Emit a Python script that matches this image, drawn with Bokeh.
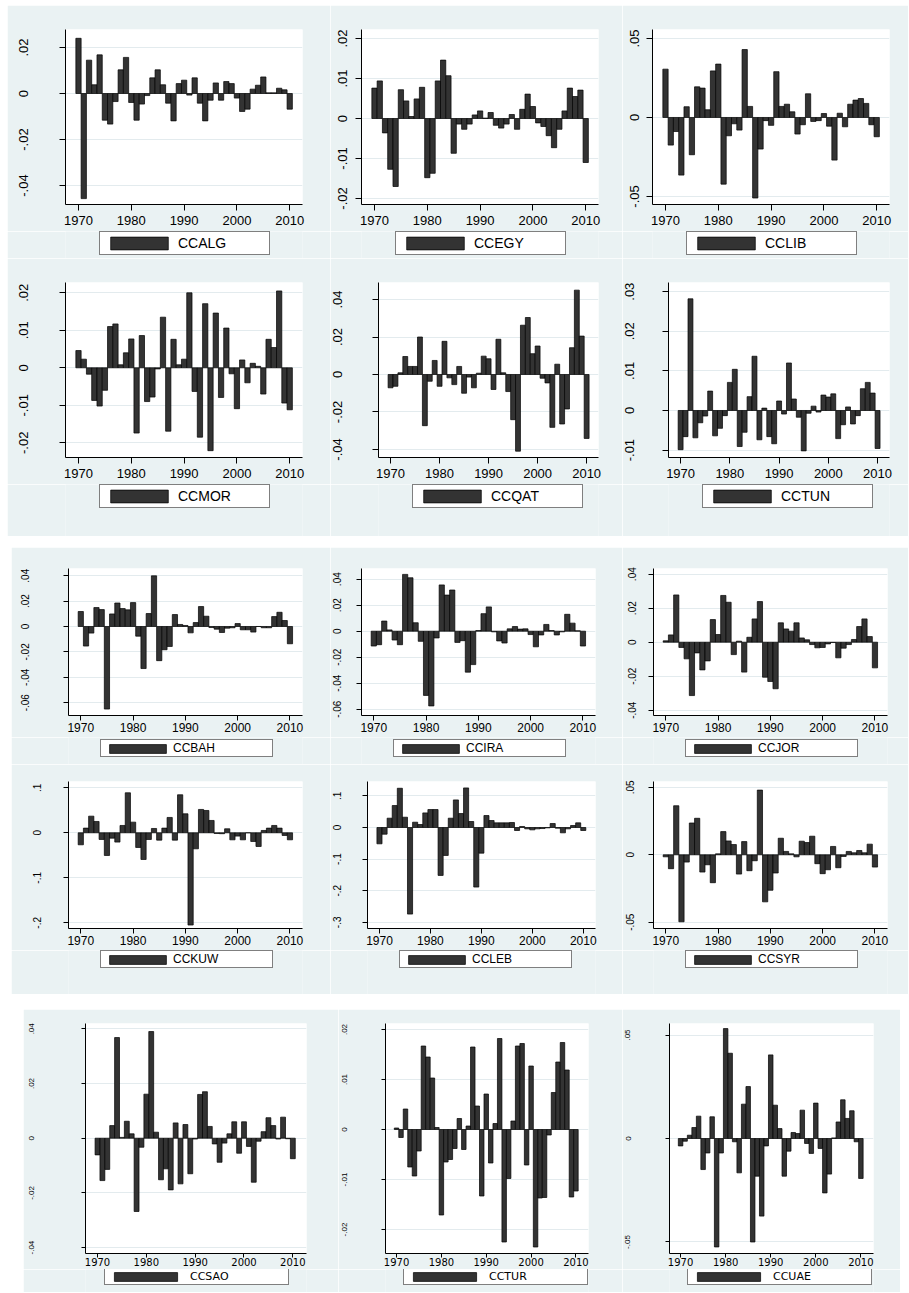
from bokeh.plotting import figure
from bokeh.models import Range1d, FixedTicker, Legend, LegendItem, Spacer
from bokeh.layouts import row, column
from bokeh.embed import file_html
from bokeh.resources import INLINE

years = list(range(1970, 2011))
x_ticks = [1970, 1980, 1990, 2000, 2010]

ccalg = [0.0240, -0.0457, 0.0145, 0.0038, 0.0168, -0.0116, -0.0133, -0.0035, 0.0103, 0.0157,
         -0.0039, -0.0116, -0.0046, -0.0009, 0.0068, 0.0103, 0.0038, -0.0042, -0.0119, 0.0043,
         0.0058, -0.0007, 0.0068, -0.0042, -0.0119, -0.0029, 0.0046, -0.0029, 0.0052, 0.0043,
         -0.0020, -0.0078, -0.0068, 0.0019, 0.0036, 0.0072, 0.0003, 0.0003, 0.0023, 0.0016, -0.0068]
ccegy = [0.0076, 0.0094, -0.0036, -0.0127, -0.0170, 0.0072, 0.0044, 0.0005, 0.0049, 0.0078,
         -0.0148, -0.0137, 0.0094, 0.0146, 0.0107, -0.0087, -0.0014, -0.0027, -0.0014, 0.0009,
         0.0019, 0.0001, 0.0015, -0.0017, -0.0024, -0.0014, 0.0010, -0.0027, 0.0023, 0.0061,
         0.0030, -0.0011, -0.0020, -0.0043, -0.0073, -0.0027, 0.0019, 0.0076, 0.0055, 0.0071, -0.0110]
cclib = [0.0306, -0.0175, -0.0089, -0.0365, 0.0068, -0.0236, 0.0194, 0.0186, 0.0049, 0.0295,
         0.0338, -0.0422, -0.0116, -0.0040, -0.0080, 0.0430, 0.0070, -0.0510, -0.0200, -0.0020,
         -0.0050, 0.0290, 0.0070, 0.0084, 0.0036, -0.0105, -0.0046, 0.0150, -0.0025, -0.0020,
         0.0025, -0.0055, -0.0270, 0.0027, -0.0059, 0.0084, 0.0110, 0.0120, 0.0089, -0.0046, -0.0122]
ccmor = [0.0046, 0.0023, -0.0017, -0.0087, -0.0102, -0.0060, 0.0110, 0.0117, 0.0008, 0.0040,
         0.0077, -0.0174, 0.0086, -0.0090, -0.0078, -0.0003, 0.0135, -0.0169, 0.0076, 0.0008,
         0.0023, 0.0200, -0.0063, -0.0185, 0.0171, -0.0221, 0.0146, -0.0079, 0.0106, -0.0016,
         -0.0109, 0.0021, -0.0040, 0.0012, 0.0004, -0.0070, 0.0076, 0.0054, 0.0205, -0.0094, -0.0112]
ccqat = [-0.0071, -0.0063, 0.0009, 0.0096, 0.0043, 0.0043, 0.0200, -0.0273, -0.0036, 0.0075,
         -0.0063, 0.0177, -0.0018, -0.0054, 0.0043, -0.0100, -0.0014, -0.0071, 0.0007, 0.0098,
         0.0084, -0.0080, 0.0188, 0.0009, -0.0091, -0.0241, -0.0409, 0.0263, 0.0304, 0.0111,
         0.0152, -0.0020, -0.0045, -0.0282, 0.0055, -0.0264, -0.0184, 0.0143, 0.0450, 0.0205, -0.0341]
cctun = [-0.0099, -0.0066, 0.0282, -0.0069, -0.0031, -0.0014, 0.0049, -0.0064, -0.0045, -0.0013,
         0.0071, 0.0104, -0.0091, -0.0055, 0.0035, 0.0137, -0.0074, 0.0006, -0.0066, -0.0084,
         0.0024, -0.0009, 0.0120, 0.0029, -0.0017, -0.0102, -0.0007, 0.0011, -0.0004, 0.0039,
         0.0034, 0.0042, -0.0071, -0.0036, 0.0009, -0.0034, -0.0013, 0.0055, 0.0071, 0.0044, -0.0096]
ccbah = [0.0118, -0.0154, -0.0052, 0.0149, 0.0133, -0.0650, 0.0099, 0.0185, 0.0141, 0.0131,
         0.0188, -0.0076, -0.0331, 0.0102, 0.0399, -0.0269, -0.0183, -0.0157, 0.0094, 0.0016,
         0.0008, -0.0050, 0.0031, 0.0157, 0.0081, -0.0008, -0.0021, -0.0047, -0.0013, -0.0010,
         0.0023, -0.0026, -0.0026, -0.0044, 0.0000, -0.0010, -0.0010, 0.0078, 0.0112, 0.0047, -0.0136]
ccira = [-0.0114, -0.0104, 0.0078, 0.0010, -0.0068, -0.0104, 0.0437, 0.0411, 0.0065, -0.0078,
         -0.0494, -0.0575, -0.0052, 0.0356, 0.0278, 0.0317, -0.0086, -0.0073, -0.0315, -0.0257,
         0.0005, 0.0135, 0.0187, -0.0005, -0.0075, -0.0091, 0.0018, 0.0036, 0.0016, 0.0018,
         -0.0026, -0.0120, -0.0029, 0.0052, 0.0005, -0.0029, -0.0005, 0.0130, 0.0062, 0.0003, -0.0114]
ccjor = [0.0008, 0.0043, 0.0278, -0.0031, -0.0098, -0.0314, -0.0063, -0.0163, -0.0110, 0.0133,
         0.0045, 0.0275, 0.0235, -0.0073, 0.0006, -0.0176, 0.0029, 0.0137, 0.0239, -0.0206,
         -0.0231, -0.0274, 0.0114, 0.0078, 0.0065, 0.0114, 0.0025, 0.0014, -0.0014, -0.0033,
         -0.0031, -0.0010, -0.0002, -0.0092, -0.0035, -0.0014, 0.0016, 0.0092, 0.0137, 0.0033, -0.0151]
cckuw = [-0.0267, 0.0104, 0.0370, 0.0252, -0.0148, -0.0504, -0.0119, -0.0207, 0.0163, 0.0889,
         0.0237, -0.0326, -0.0593, -0.0148, 0.0096, -0.0163, 0.0104, 0.0341, -0.0163, 0.0845,
         0.0422, -0.2050, -0.0356, 0.0519, 0.0496, 0.0274, -0.0015, -0.0020, 0.0089, -0.0156,
         -0.0074, -0.0156, 0.0000, -0.0193, -0.0304, 0.0052, 0.0104, 0.0163, 0.0104, -0.0059, -0.0156]
ccleb = [-0.0516, -0.0211, 0.0295, 0.0695, 0.1242, 0.0326, -0.2740, 0.0168, 0.0095, 0.0463,
         0.0568, 0.0568, -0.1516, -0.0884, 0.0295, 0.0874, 0.0442, 0.1253, 0.0190, -0.1885,
         -0.0811, 0.0379, 0.0221, 0.0147, 0.0147, 0.0147, 0.0158, -0.0095, 0.0032, -0.0042,
         -0.0074, -0.0042, -0.0032, -0.0011, 0.0126, -0.0021, -0.0168, -0.0042, 0.0063, 0.0147, -0.0095]
ccsyr = [-0.0015, -0.0103, 0.0364, -0.0497, -0.0054, 0.0236, 0.0271, -0.0128, -0.0074, -0.0207,
         0.0007, 0.0172, 0.0103, 0.0076, -0.0143, 0.0098, -0.0118, -0.0044, 0.0480, -0.0349,
         -0.0263, -0.0135, 0.0123, 0.0025, 0.0007, -0.0015, 0.0101, 0.0091, 0.0138, -0.0066,
         -0.0140, -0.0111, 0.0062, -0.0096, -0.0012, 0.0025, 0.0015, 0.0032, 0.0015, 0.0079, -0.0091]
ccsao = [-0.0061, -0.0155, -0.0114, 0.0046, 0.0368, 0.0003, 0.0062, 0.0016, -0.0268, -0.0033,
         0.0161, 0.0390, 0.0022, -0.0152, -0.0112, -0.0189, 0.0056, -0.0167, 0.0050, -0.0130,
         -0.0003, 0.0160, 0.0170, 0.0043, -0.0021, -0.0088, -0.0018, 0.0016, 0.0060, -0.0055,
         0.0060, -0.0030, -0.0161, -0.0011, 0.0024, 0.0075, 0.0046, -0.0003, 0.0077, -0.0002, -0.0075]
cctur = [0.0003, -0.0016, 0.0041, -0.0075, -0.0093, -0.0043, 0.0167, 0.0145, 0.0103, 0.0004,
         -0.0171, -0.0065, -0.0060, -0.0038, 0.0022, -0.0040, 0.0007, 0.0165, 0.0047, -0.0133,
         0.0071, -0.0067, 0.0012, 0.0182, -0.0225, -0.0098, 0.0017, 0.0167, 0.0172, -0.0071,
         0.0127, -0.0235, -0.0137, -0.0136, -0.0011, 0.0074, 0.0135, 0.0174, 0.0119, -0.0135, -0.0123]
ccuae = [-0.0036, -0.0013, 0.0016, 0.0053, 0.0108, -0.0150, -0.0070, 0.0105, -0.0524, -0.0070,
         0.0531, 0.0412, -0.0016, -0.0166, 0.0166, 0.0251, -0.0500, -0.0182, -0.0375, -0.0036,
         0.0404, 0.0161, 0.0048, -0.0182, -0.0061, 0.0029, 0.0024, 0.0137, -0.0024, -0.0072,
         0.0171, -0.0048, -0.0263, -0.0172, 0.0003, 0.0080, 0.0187, 0.0097, 0.0134, -0.0016, -0.0193]

# y tick values and their labels
t_alg = [-0.04, -0.02, 0, 0.02];               l_alg = ["-.04", "-.02", "0", ".02"]
t_egy = [-0.02, -0.01, 0, 0.01, 0.02];         l_egy = ["-.02", "-.01", "0", ".01", ".02"]
t_lib = [-0.05, 0, 0.05];                      l_lib = ["-.05", "0", ".05"]
t_mor = [-0.02, -0.01, 0, 0.01, 0.02];         l_mor = ["-.02", "-.01", "0", ".01", ".02"]
t_qat = [-0.04, -0.02, 0, 0.02, 0.04];         l_qat = ["-.04", "-.02", "0", ".02", ".04"]
t_tun = [-0.01, 0, 0.01, 0.02, 0.03];          l_tun = ["-.01", "0", ".01", ".02", ".03"]
t_bah = [-0.06, -0.04, -0.02, 0, 0.02, 0.04];  l_bah = ["-.06", "-.04", "-.02", "0", ".02", ".04"]
t_ira = [-0.06, -0.04, -0.02, 0, 0.02, 0.04];  l_ira = ["-.06", "-.04", "-.02", "0", ".02", ".04"]
t_jor = [-0.04, -0.02, 0, 0.02, 0.04];         l_jor = ["-.04", "-.02", "0", ".02", ".04"]
t_kuw = [-0.2, -0.1, 0, 0.1];                  l_kuw = ["-.2", "-.1", "0", ".1"]
t_leb = [-0.3, -0.2, -0.1, 0, 0.1];            l_leb = ["-.3", "-.2", "-.1", "0", ".1"]
t_syr = [-0.05, 0, 0.05];                      l_syr = ["-.05", "0", ".05"]
t_sao = [-0.04, -0.02, 0, 0.02, 0.04];         l_sao = ["-.04", "-.02", "0", ".02", ".04"]
t_tur = [-0.02, -0.01, 0, 0.01, 0.02];         l_tur = ["-.02", "-.01", "0", ".01", ".02"]
t_uae = [-0.05, 0, 0.05];                      l_uae = ["-.05", "0", ".05"]

BG = "#EAF2F3"
GRID = "#E3EBEE"
BAR = "#333333"

STYLE = {
    1: dict(xfont="13px", xfam="Liberation Sans", yfont="13px", yfam="Liberation Sans", tick=6, xstand=5,
            lfont="14px", lfam="Liberation Sans", gw=72, gh=16, pad=3, lstand=3, lw=88),
    2: dict(xfont="12px", xfam="Liberation Sans", yfont="10px", yfam="Liberation Sans", tick=5, xstand=2,
            lfont="12px", lfam="Liberation Sans", gw=71, gh=11, pad=1, lstand=0, lw=98),
    3: dict(xfont="10px", xfam="DejaVu Sans", yfont="8px", yfam="Liberation Sans", tick=4, xstand=0,
            lfont="11px", lfam="DejaVu Sans", gw=79, gh=11, pad=1, lstand=5, lw=97),
}


def make(label, vals, ticks, tlabels, yr, xr, fw, fh, bl, br, bt, bb, ystand, st, leg_h, leg_y):
    s = STYLE[st]
    W = bl + fw + br
    p = figure(width=W, height=bt + fh + bb, x_range=Range1d(*xr), y_range=Range1d(*yr),
               min_border_left=bl, min_border_right=br, min_border_top=bt, min_border_bottom=bb,
               output_backend="svg", toolbar_location=None)
    p.background_fill_color = "white"
    p.border_fill_color = BG
    p.outline_line_color = None
    p.vbar(x=years, top=vals, bottom=0, width=1.0, fill_color=BAR, line_color="black",
           line_width=0.7)
    xt = FixedTicker(ticks=x_ticks)
    p.xaxis.ticker = xt
    p.xaxis.major_tick_out = s["tick"]
    p.xaxis.major_tick_in = 0
    p.xaxis.minor_tick_out = 0
    p.xaxis.minor_tick_in = 0
    p.xaxis.major_label_standoff = s["xstand"]
    p.xaxis.major_label_text_font_size = s["xfont"]
    p.xaxis.major_label_text_font = s["xfam"]
    p.xaxis.major_label_text_color = "black"
    p.xaxis.axis_line_color = "black"
    p.xaxis.major_tick_line_color = "black"
    yt = FixedTicker(ticks=ticks)
    p.yaxis.ticker = yt
    p.yaxis.major_label_overrides = {t: l for t, l in zip(ticks, tlabels)}
    p.yaxis.major_label_orientation = "vertical"
    p.yaxis.major_tick_out = s["tick"]
    p.yaxis.major_tick_in = 0
    p.yaxis.minor_tick_out = 0
    p.yaxis.minor_tick_in = 0
    p.yaxis.major_label_standoff = ystand
    p.yaxis.major_label_text_font_size = s["yfont"]
    p.yaxis.major_label_text_font = s["yfam"]
    p.yaxis.major_label_text_color = "black"
    p.yaxis.axis_line_color = "black"
    p.yaxis.major_tick_line_color = "black"
    p.xgrid.visible = False
    p.ygrid.ticker = yt
    p.ygrid.grid_line_color = GRID
    p.ygrid.grid_line_width = 1

    # legend strip below the plot (its frame lines up with the plot frame above)
    q = figure(width=W, height=leg_h, x_range=Range1d(0, 1), y_range=Range1d(0, 1),
               x_axis_type=None, y_axis_type=None, min_border_left=bl, min_border_right=br,
               min_border_top=0, min_border_bottom=0,
               output_backend="svg", toolbar_location=None)
    q.background_fill_color = BG
    q.border_fill_color = BG
    q.outline_line_color = None
    # same series, hidden here: only its legend swatch is shown
    sw = q.vbar(x=years, top=vals, bottom=0, width=1.0, fill_color=BAR, line_color="black",
                line_width=0.7)
    sw.visible = False
    box_w = 2 * s["pad"] + s["gw"] + s["lstand"] + s["lw"]
    lx = int(round((fw - box_w) / 2))
    leg = Legend(items=[LegendItem(label=label, renderers=[sw])], location=(lx, leg_y),
                 orientation="vertical", border_line_color="black", border_line_width=1,
                 background_fill_color="white", background_fill_alpha=1.0,
                 inactive_fill_alpha=0.0,
                 glyph_width=s["gw"], glyph_height=s["gh"], padding=s["pad"],
                 label_standoff=s["lstand"], label_width=s["lw"], label_height=8,
                 margin=0, spacing=0,
                 label_text_font_size=s["lfont"], label_text_font=s["lfam"],
                 label_text_color="black")
    q.add_layout(leg)
    return column(p, q)


XR12 = (1967.54, 2012.42)
XR2 = (1967.65, 2012.4)
XR3 = (1967.54, 2012.8)

# panel 1
f_alg = make("CCALG", ccalg, t_alg, l_alg, (-0.04826, 0.02783), XR12, 237, 175, 58, 28, 24, 27, 31, 1, 27, 3)
f_egy = make("CCEGY", ccegy, t_egy, l_egy, (-0.0215, 0.02225), XR12, 237, 175, 31, 24, 24, 27, 9, 1, 27, 3)
f_lib = make("CCLIB", cclib, t_lib, l_lib, (-0.0551, 0.0557), XR12, 237, 175, 30, 19, 24, 27, 7, 1, 27, 3)
f_mor = make("CCMOR", ccmor, t_mor, l_mor, (-0.02392, 0.02275), XR12, 237, 175, 58, 28, 24, 27, 31, 1, 52, 28)
f_qat = make("CCQAT", ccqat, t_qat, l_qat, (-0.04427, 0.04907), XR12, 237, 175, 31, 24, 24, 27, 30, 1, 52, 28)
f_tun = make("CCTUN", cctun, t_tun, l_tun, (-0.01187, 0.03232), XR12, 237, 175, 30, 19, 24, 27, 28, 1, 52, 28)

# panel 2
f_bah = make("CCBAH", ccbah, t_bah, l_bah, (-0.07008, 0.04567), XR2, 234, 147, 57, 28, 21, 22, 34, 2, 27, 7)
f_ira = make("CCIRA", ccira, t_ira, l_ira, (-0.06485, 0.04823), XR2, 234, 147, 31, 27, 21, 22, 15, 2, 27, 7)
f_jor = make("CCJOR", ccjor, t_jor, l_jor, (-0.04312, 0.04335), XR2, 234, 147, 31, 21, 21, 22, 12, 2, 27, 7)
f_kuw = make("CCKUW", cckuw, t_kuw, l_kuw, (-0.2127, 0.114), XR2, 234, 147, 57, 28, 17, 22, 22, 2, 44, 26)
f_leb = make("CCLEB", ccleb, t_leb, l_leb, (-0.3196, 0.1456), XR2, 234, 147, 31, 27, 17, 22, 21, 2, 44, 26)
f_syr = make("CCSYR", ccsyr, t_syr, l_syr, (-0.05467, 0.05438), XR2, 234, 147, 31, 21, 17, 22, 14, 2, 44, 26)

# panel 3
f_sao = make("CCSAO", ccsao, t_sao, l_sao, (-0.04216, 0.04194), XR3, 221, 230, 62, 32, 14, 16, 47, 3, 23, 7)
f_tur = make("CCTUR", cctur, t_tur, l_tur, (-0.0248, 0.0212), XR3, 219, 230, 31, 34, 14, 16, 35, 3, 23, 7)
f_uae = make("CCUAE", ccuae, t_uae, l_uae, (-0.05556, 0.05556), XR3, 220, 230, 31, 27, 14, 16, 35, 3, 23, 7)

panel1 = row(Spacer(width=7, height=10), column(row(f_alg, f_egy, f_lib), row(f_mor, f_qat, f_tun)))
panel2 = row(Spacer(width=11, height=10), column(row(f_bah, f_ira, f_jor), row(f_kuw, f_leb, f_syr)))
panel3 = row(Spacer(width=23, height=10), row(f_sao, f_tur, f_uae))
page = column(Spacer(height=5, width=10), panel1, Spacer(height=11, width=10), panel2,
              Spacer(height=15, width=10), panel3)

open("out.html", "w").write(file_html(page, INLINE))
